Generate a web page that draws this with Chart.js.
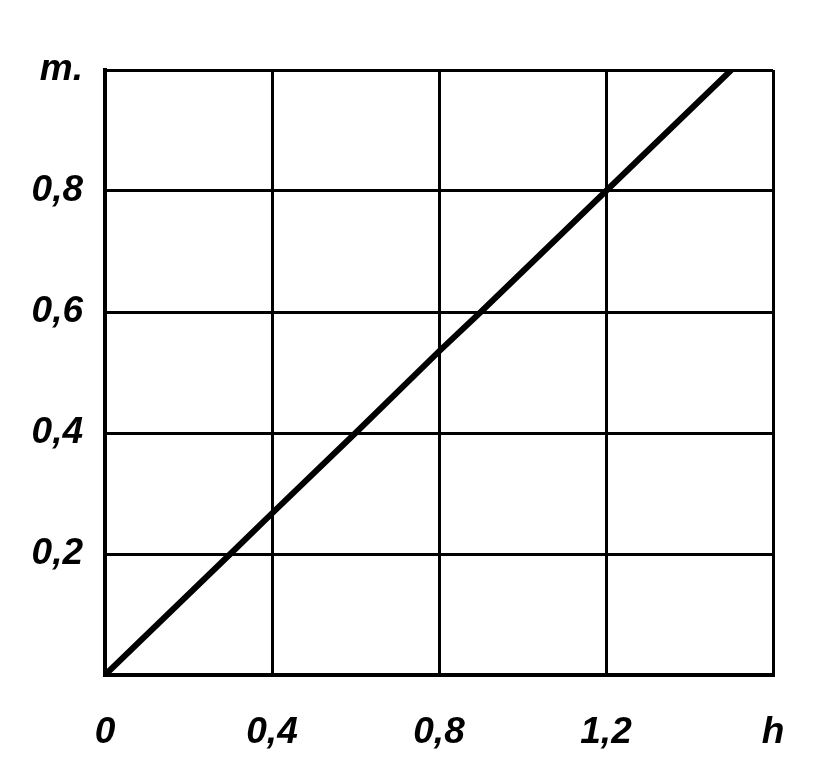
<!DOCTYPE html>
<html>
<head>
<meta charset="utf-8">
<script src="https://cdn.jsdelivr.net/npm/chart.js@4/dist/chart.umd.min.js"></script>
<style>
html,body{margin:0;padding:0;background:#fff;}
#wrap{width:815px;height:766px;}
</style>
</head>
<body>
<div id="wrap"><canvas id="c" width="815" height="766"></canvas></div>
<script>
// Data
const hValues = [0, 0.3, 0.4, 0.6, 0.8, 0.9, 1.2, 1.5];
const mValues = [0, 0.2, 0.267, 0.4, 0.535, 0.6, 0.8, 1.0];
const xTickValues = [0, 0.4, 0.8, 1.2, 1.6];
const xTickLabels = ['0', '0,4', '0,8', '1,2', 'h'];
const yTickValues = [0, 0.2, 0.4, 0.6, 0.8, 1.0];
const yTickLabels = ['', '0,2', '0,4', '0,6', '0,8', 'm.'];

const tickFont = {family: "'Liberation Sans', Arial, sans-serif", size: 37, style: 'italic', weight: 'bold'};

function labelFor(values, labels, v) {
  for (let i = 0; i < values.length; i++) {
    if (Math.abs(values[i] - v) < 1e-6) return labels[i];
  }
  return '';
}

new Chart(document.getElementById('c'), {
  type: 'scatter',
  data: {
    datasets: [{
      data: hValues.map((h, i) => ({x: h, y: mValues[i]})),
      showLine: true,
      borderColor: '#000',
      borderWidth: 6,
      pointRadius: 0,
      tension: 0,
      fill: false
    }]
  },
  options: {
    responsive: false,
    animation: false,
    layout: {padding: {left: 0, right: 42, top: 70, bottom: 0}},
    plugins: {legend: {display: false}, tooltip: {enabled: false}},
    scales: {
      x: {
        type: 'linear',
        min: 0, max: 1.6,
        afterBuildTicks: (s) => { s.ticks = xTickValues.map(v => ({value: v})); },
        afterFit: (s) => { s.height = 91; s.paddingLeft = 0; s.paddingRight = 0; },
        ticks: {
          color: '#000',
          font: tickFont,
          padding: 36,
          maxRotation: 0,
          autoSkip: false,
          callback: (v) => labelFor(xTickValues, xTickLabels, v)
        },
        grid: {color: '#000', lineWidth: 3, drawTicks: false},
        border: {color: '#000', width: 4}
      },
      y: {
        type: 'linear',
        min: 0, max: 1.0,
        afterBuildTicks: (s) => { s.ticks = yTickValues.map(v => ({value: v})); },
        afterFit: (s) => { s.width = 105; s.paddingTop = 0; s.paddingBottom = 0; },
        ticks: {
          color: '#000',
          font: tickFont,
          padding: 22,
          autoSkip: false,
          callback: (v) => labelFor(yTickValues, yTickLabels, v)
        },
        grid: {color: '#000', lineWidth: 3, drawTicks: false},
        border: {color: '#000', width: 4}
      }
    }
  }
});
</script>
</body>
</html>
